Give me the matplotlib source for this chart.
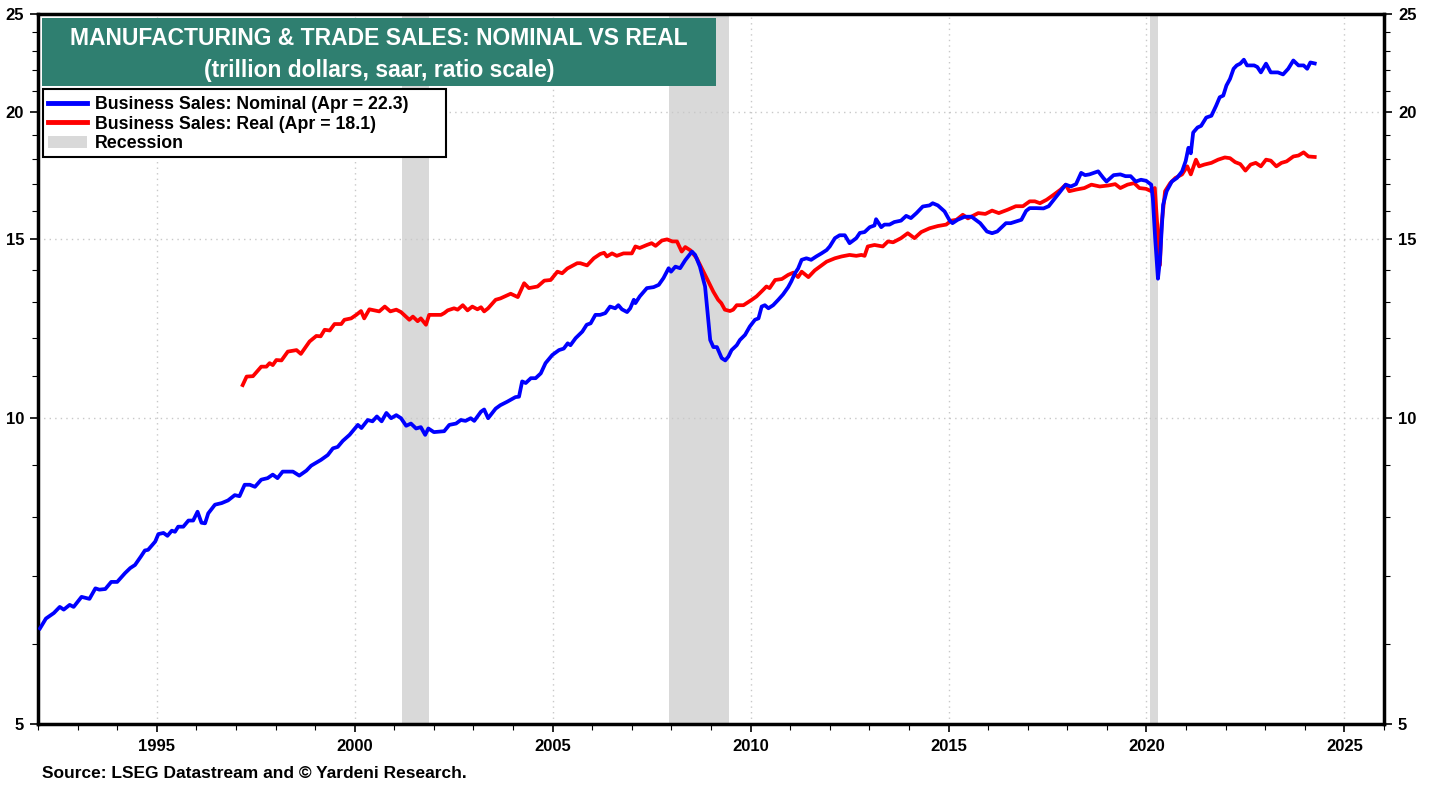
import matplotlib
matplotlib.use("Agg")
import matplotlib.pyplot as plt
from matplotlib.patches import Rectangle, Patch
from matplotlib.lines import Line2D
from matplotlib.ticker import FixedLocator, NullFormatter

plt.rcParams['font.family'] = ['Liberation Sans', 'DejaVu Sans']

# business sales, nominal (trillion $, saar)
nominal_t = [1992.05, 1992.2, 1992.4, 1992.55, 1992.65, 1992.8, 1992.9, 1993.1, 1993.3, 1993.45,
             1993.55, 1993.7, 1993.85, 1994.0, 1994.2, 1994.33, 1994.45, 1994.6, 1994.7, 1994.78,
             1994.96, 1995.04, 1995.17, 1995.27, 1995.38, 1995.46, 1995.54, 1995.67, 1995.8, 1995.92,
             1996.03, 1996.13, 1996.22, 1996.3, 1996.47, 1996.64, 1996.8, 1996.97, 1997.09, 1997.22,
             1997.35, 1997.48, 1997.64, 1997.8, 1997.93, 1998.05, 1998.18, 1998.44, 1998.6, 1998.78,
             1998.9, 1999.15, 1999.32, 1999.45, 1999.57, 1999.7, 1999.87, 2000.08, 2000.17, 2000.33,
             2000.45, 2000.56, 2000.68, 2000.8, 2000.92, 2001.05, 2001.17, 2001.3, 2001.42, 2001.55,
             2001.67, 2001.78, 2001.86, 2002.0, 2002.26, 2002.39, 2002.56, 2002.68, 2002.8, 2002.93,
             2003.02, 2003.19, 2003.27, 2003.37, 2003.56, 2003.68, 2003.85, 2004.06, 2004.15, 2004.23,
             2004.32, 2004.45, 2004.57, 2004.7, 2004.82, 2004.99, 2005.16, 2005.28, 2005.38, 2005.45,
             2005.58, 2005.75, 2005.86, 2005.96, 2006.08, 2006.2, 2006.33, 2006.45, 2006.58, 2006.66,
             2006.75, 2006.88, 2006.96, 2007.05, 2007.09, 2007.2, 2007.38, 2007.55, 2007.68, 2007.8,
             2007.93, 2007.99, 2008.1, 2008.22, 2008.35, 2008.52, 2008.6, 2008.72, 2008.85, 2008.93,
             2008.98, 2009.06, 2009.15, 2009.27, 2009.36, 2009.44, 2009.52, 2009.65, 2009.73, 2009.86,
             2009.98, 2010.11, 2010.2, 2010.28, 2010.36, 2010.45, 2010.57, 2010.7, 2010.82, 2010.95,
             2011.03, 2011.12, 2011.2, 2011.29, 2011.41, 2011.53, 2011.66, 2011.79, 2011.92, 2012.0,
             2012.13, 2012.25, 2012.38, 2012.5, 2012.67, 2012.76, 2012.88, 2013.01, 2013.13, 2013.17,
             2013.3, 2013.38, 2013.51, 2013.63, 2013.8, 2013.93, 2014.05, 2014.19, 2014.35, 2014.52,
             2014.6, 2014.73, 2014.9, 2015.03, 2015.1, 2015.23, 2015.41, 2015.58, 2015.8, 2015.97,
             2016.1, 2016.23, 2016.36, 2016.45, 2016.57, 2016.75, 2016.84, 2016.96, 2017.05, 2017.22,
             2017.4, 2017.53, 2017.66, 2017.79, 2017.96, 2018.09, 2018.22, 2018.35, 2018.45, 2018.56,
             2018.78, 2018.91, 2018.99, 2019.17, 2019.34, 2019.47, 2019.6, 2019.73, 2019.86, 2019.99,
             2020.12, 2020.16, 2020.22, 2020.29, 2020.34, 2020.42, 2020.51, 2020.64, 2020.77, 2020.9,
             2020.99, 2021.06, 2021.12, 2021.18, 2021.29, 2021.38, 2021.51, 2021.64, 2021.76, 2021.85,
             2021.94, 2022.02, 2022.11, 2022.2, 2022.28, 2022.37, 2022.46, 2022.54, 2022.72, 2022.8,
             2022.89, 2023.02, 2023.14, 2023.32, 2023.45, 2023.58, 2023.71, 2023.84, 2023.97, 2024.06,
             2024.14, 2024.25]
nominal = [6.21, 6.35, 6.43, 6.52, 6.48, 6.55, 6.52, 6.67, 6.64, 6.80,
           6.78, 6.79, 6.90, 6.90, 7.04, 7.12, 7.17, 7.31, 7.41, 7.42,
           7.56, 7.69, 7.71, 7.66, 7.75, 7.73, 7.82, 7.82, 7.93, 7.93,
           8.09, 7.89, 7.88, 8.06, 8.22, 8.25, 8.30, 8.40, 8.38, 8.60,
           8.60, 8.56, 8.70, 8.73, 8.80, 8.73, 8.86, 8.86, 8.78, 8.88,
           8.98, 9.10, 9.20, 9.34, 9.37, 9.50, 9.63, 9.85, 9.78, 9.96,
           9.93, 10.04, 9.93, 10.12, 10.00, 10.07, 10.00, 9.83, 9.88, 9.77,
           9.80, 9.63, 9.77, 9.69, 9.71, 9.85, 9.88, 9.96, 9.94, 10.00,
           9.94, 10.15, 10.20, 10.00, 10.22, 10.30, 10.38, 10.49, 10.50, 10.87,
           10.83, 10.95, 10.95, 11.07, 11.33, 11.54, 11.67, 11.71, 11.85, 11.80,
           11.99, 12.17, 12.36, 12.40, 12.64, 12.64, 12.69, 12.88, 12.83, 12.92,
           12.80, 12.72, 12.83, 13.08, 12.98, 13.18, 13.43, 13.46, 13.53, 13.74,
           14.05, 13.94, 14.10, 14.05, 14.31, 14.59, 14.48, 14.10, 13.48, 12.50,
           11.94, 11.75, 11.75, 11.46, 11.40, 11.50, 11.67, 11.80, 11.94, 12.08,
           12.31, 12.50, 12.54, 12.88, 12.92, 12.83, 12.92, 13.08, 13.24, 13.46,
           13.64, 13.89, 14.04, 14.32, 14.37, 14.32, 14.43, 14.53, 14.64, 14.76,
           15.04, 15.14, 15.14, 14.87, 15.04, 15.22, 15.25, 15.42, 15.48, 15.70,
           15.42, 15.51, 15.51, 15.60, 15.65, 15.82, 15.74, 15.92, 16.16, 16.20,
           16.28, 16.20, 15.98, 15.65, 15.56, 15.68, 15.79, 15.79, 15.56, 15.27,
           15.21, 15.27, 15.44, 15.56, 15.56, 15.64, 15.68, 16.00, 16.10, 16.10,
           16.09, 16.17, 16.41, 16.66, 16.98, 16.91, 17.00, 17.44, 17.35, 17.38,
           17.50, 17.24, 17.10, 17.35, 17.38, 17.31, 17.31, 17.10, 17.17, 17.13,
           16.98, 16.47, 15.03, 13.72, 14.30, 16.22, 16.73, 17.10, 17.24, 17.50,
           17.91, 18.46, 18.23, 19.11, 19.33, 19.40, 19.77, 19.85, 20.31, 20.70,
           20.78, 21.26, 21.58, 22.08, 22.25, 22.34, 22.54, 22.25, 22.25, 22.17,
           21.90, 22.34, 21.90, 21.90, 21.80, 22.08, 22.50, 22.25, 22.25, 22.08,
           22.40, 22.35]

# business sales, real (trillion chained $, saar)
real_t = [1997.17, 1997.27, 1997.43, 1997.64, 1997.77, 1997.85, 1997.93, 1998.02, 1998.15, 1998.31,
          1998.53, 1998.64, 1998.86, 1999.03, 1999.14, 1999.24, 1999.37, 1999.49, 1999.66, 1999.74,
          1999.91, 2000.04, 2000.16, 2000.24, 2000.37, 2000.5, 2000.62, 2000.76, 2000.9, 2001.05,
          2001.17, 2001.38, 2001.47, 2001.59, 2001.67, 2001.8, 2001.88, 2002.0, 2002.18, 2002.26,
          2002.35, 2002.51, 2002.6, 2002.73, 2002.85, 2002.97, 2003.1, 2003.19, 2003.27, 2003.37,
          2003.56, 2003.68, 2003.94, 2004.12, 2004.28, 2004.4, 2004.62, 2004.79, 2004.95, 2005.12,
          2005.24, 2005.37, 2005.62, 2005.7, 2005.87, 2006.04, 2006.2, 2006.3, 2006.37, 2006.5,
          2006.62, 2006.79, 2007.0, 2007.09, 2007.2, 2007.38, 2007.5, 2007.6, 2007.76, 2007.89,
          2008.02, 2008.14, 2008.26, 2008.35, 2008.48, 2008.64, 2008.85, 2008.93, 2009.06, 2009.18,
          2009.26, 2009.35, 2009.48, 2009.56, 2009.65, 2009.82, 2010.03, 2010.15, 2010.32, 2010.4,
          2010.48, 2010.62, 2010.79, 2010.95, 2011.08, 2011.2, 2011.29, 2011.46, 2011.62, 2011.75,
          2011.92, 2012.13, 2012.3, 2012.5, 2012.67, 2012.8, 2012.88, 2012.96, 2013.13, 2013.34,
          2013.47, 2013.6, 2013.8, 2013.97, 2014.14, 2014.31, 2014.52, 2014.73, 2014.94, 2015.07,
          2015.2, 2015.36, 2015.49, 2015.75, 2015.93, 2016.1, 2016.27, 2016.49, 2016.7, 2016.88,
          2017.05, 2017.18, 2017.31, 2017.48, 2017.66, 2017.83, 2017.96, 2018.05, 2018.22, 2018.43,
          2018.61, 2018.82, 2019.04, 2019.21, 2019.34, 2019.52, 2019.69, 2019.82, 2019.99, 2020.12,
          2020.21, 2020.28, 2020.34, 2020.38, 2020.47, 2020.6, 2020.73, 2020.9, 2021.03, 2021.12,
          2021.25, 2021.33, 2021.46, 2021.64, 2021.81, 2021.98, 2022.11, 2022.24, 2022.37, 2022.5,
          2022.63, 2022.76, 2022.89, 2023.02, 2023.14, 2023.28, 2023.41, 2023.54, 2023.71, 2023.84,
          2023.97, 2024.09, 2024.25]
real = [10.78, 10.99, 11.00, 11.24, 11.24, 11.33, 11.28, 11.41, 11.40, 11.63,
        11.67, 11.57, 11.90, 12.05, 12.04, 12.22, 12.20, 12.38, 12.38, 12.50,
        12.54, 12.64, 12.75, 12.54, 12.80, 12.77, 12.74, 12.88, 12.74, 12.79,
        12.72, 12.50, 12.59, 12.46, 12.54, 12.36, 12.64, 12.64, 12.64, 12.69,
        12.77, 12.83, 12.79, 12.92, 12.77, 12.88, 12.80, 12.86, 12.74, 12.83,
        13.08, 13.12, 13.26, 13.16, 13.58, 13.43, 13.48, 13.66, 13.68, 13.94,
        13.89, 14.04, 14.21, 14.21, 14.14, 14.37, 14.51, 14.55, 14.43, 14.53,
        14.45, 14.53, 14.53, 14.76, 14.71, 14.81, 14.87, 14.78, 14.96, 15.00,
        14.93, 14.93, 14.59, 14.74, 14.63, 14.37, 13.84, 13.64, 13.32, 13.08,
        12.98, 12.79, 12.75, 12.79, 12.92, 12.92, 13.08, 13.18, 13.38, 13.48,
        13.43, 13.68, 13.71, 13.84, 13.91, 13.77, 13.94, 13.77, 13.98, 14.10,
        14.26, 14.37, 14.43, 14.48, 14.45, 14.48, 14.45, 14.76, 14.81, 14.76,
        14.93, 14.90, 15.04, 15.21, 15.04, 15.25, 15.38, 15.46, 15.51, 15.65,
        15.68, 15.86, 15.73, 15.92, 15.89, 16.01, 15.92, 16.04, 16.17, 16.17,
        16.35, 16.35, 16.28, 16.41, 16.60, 16.79, 16.98, 16.73, 16.79, 16.85,
        16.98, 16.91, 16.95, 17.00, 16.85, 16.98, 17.04, 16.85, 16.82, 16.73,
        16.85, 15.36, 14.15, 15.50, 16.73, 17.04, 17.24, 17.38, 17.70, 17.38,
        17.97, 17.70, 17.77, 17.84, 17.97, 18.06, 18.03, 17.87, 17.79, 17.53,
        17.77, 17.84, 17.70, 17.97, 17.93, 17.70, 17.84, 17.90, 18.10, 18.14,
        18.27, 18.10, 18.08]

recessions = [(2001.2, 2001.88), (2007.95, 2009.45), (2020.1, 2020.3)]

y_ticks = [5, 10, 15, 20, 25]
x_ticks = [1995, 2000, 2005, 2010, 2015, 2020, 2025]

fig = plt.figure(figsize=(14.38, 7.85), dpi=100)
ax = fig.add_axes([38 / 1438, 1 - 724 / 785, 1346 / 1438, 710 / 785])

for a, b in recessions:
    ax.axvspan(a, b, color='#d9d9d9', lw=0, zorder=1)

ax.plot(real_t, real, color='#ff0000', lw=2.7, zorder=3, solid_joinstyle='round')
ax.plot(nominal_t, nominal, color='#0000ff', lw=2.7, zorder=3, solid_joinstyle='round')

ax.set_yscale('log')
ax.set_ylim(5, 25)
ax.set_xlim(1992, 2026)

ax.yaxis.set_major_locator(FixedLocator(y_ticks))
ax.yaxis.set_minor_locator(FixedLocator([v for v in range(6, 25) if v not in y_ticks]))
ax.yaxis.set_minor_formatter(NullFormatter())
ax.set_yticklabels([str(v) for v in y_ticks])
ax.xaxis.set_major_locator(FixedLocator(x_ticks))
ax.xaxis.set_minor_locator(FixedLocator(list(range(1992, 2027))))
ax.set_xticklabels([str(v) for v in x_ticks])

ax.tick_params(axis='y', which='both', left=True, right=True, labelleft=True, labelright=True,
               direction='out')
ax.tick_params(axis='both', which='major', length=6, width=1.2, labelsize=12, pad=4)
ax.tick_params(axis='both', which='minor', length=4, width=0.8)
ax.tick_params(axis='x', which='major', pad=5)
for lbl in ax.get_xticklabels() + ax.get_yticklabels():
    lbl.set_fontweight('bold')
for t in ax.yaxis.get_major_ticks():
    t.label2.set_fontweight('bold')

for v in [10, 15, 20]:
    ax.axhline(v, color='#c8c8c8', lw=1, ls=(0, (1, 3)), zorder=2)
for v in x_ticks:
    ax.axvline(v, color='#c8c8c8', lw=1, ls=(0, (1, 3)), zorder=2)

for s in ax.spines.values():
    s.set_linewidth(2.5)

# title box
ax.add_patch(Rectangle((0.003, 0.8986), 0.501, 0.0958, transform=ax.transAxes,
                       facecolor='#2f7f70', edgecolor='none', zorder=5))
ax.text(0.2535, 0.965, 'MANUFACTURING & TRADE SALES: NOMINAL VS REAL', transform=ax.transAxes,
        ha='center', va='center', color='white', fontsize=16.5, fontweight='bold', zorder=6)
ax.text(0.2535, 0.921, '(trillion dollars, saar, ratio scale)', transform=ax.transAxes,
        ha='center', va='center', color='white', fontsize=16.5, fontweight='bold', zorder=6)

# legend frame drawn by hand so it can be wider than the text
ax.add_patch(Rectangle((5 / 1346, 1 - 143 / 710), 403 / 1346, 68 / 710, transform=ax.transAxes,
                       facecolor='white', edgecolor='black', lw=1.5, zorder=6.5))
handles = [Line2D([], [], color='#0000ff', lw=3.5),
           Line2D([], [], color='#ff0000', lw=3.5),
           Patch(facecolor='#d9d9d9', edgecolor='none')]
labels = ['Business Sales: Nominal (Apr = 22.3)', 'Business Sales: Real (Apr = 18.1)', 'Recession']
leg = ax.legend(handles, labels, loc='upper left', bbox_to_anchor=(0.0037, 0.892),
                borderaxespad=0, frameon=False,
                prop={'weight': 'bold', 'size': 12.8}, handlelength=2.2, handletextpad=0.4,
                labelspacing=0.15, borderpad=0.3)
leg.set_zorder(7)

fig.text(42 / 1438, 1 - 774 / 785, 'Source: LSEG Datastream and \u00a9 Yardeni Research.',
         fontsize=12.5, fontweight='bold', va='center', ha='left')

plt.savefig('out.png', dpi=100)
plt.close()
